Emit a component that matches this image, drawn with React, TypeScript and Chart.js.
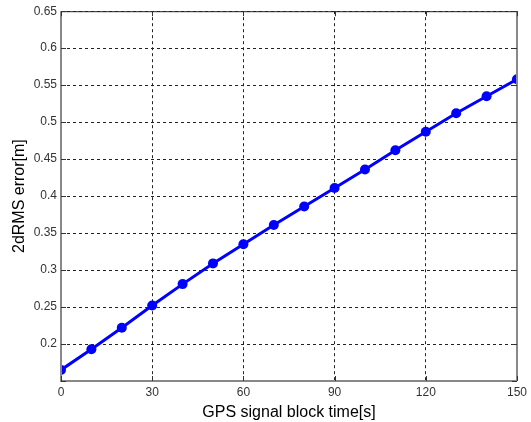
import React, { useEffect, useRef } from "react";
import { Chart, registerables } from "chart.js";

Chart.register(...registerables);

const blockTimes = [0, 10, 20, 30, 40, 50, 60, 70, 80, 90, 100, 110, 120, 130, 140, 150];
const rmsErrors = [0.165, 0.193, 0.222, 0.252, 0.281, 0.309, 0.335, 0.361, 0.386, 0.411, 0.436, 0.462, 0.487, 0.512, 0.535, 0.558];
const xTicks = [0, 30, 60, 90, 120, 150];
const yTicks = [0.15, 0.2, 0.25, 0.3, 0.35, 0.4, 0.45, 0.5, 0.55, 0.6, 0.65];
const yTickLabels = ["", "0.2", "0.25", "0.3", "0.35", "0.4", "0.45", "0.5", "0.55", "0.6", "0.65"];

const framePlugin = {
  id: "frame",
  afterDraw(chart: any) {
    const { ctx, chartArea: a } = chart;
    ctx.save();
    ctx.lineWidth = 1;
    ctx.strokeStyle = "#222";
    ctx.beginPath();
    ctx.moveTo(a.left, a.top + 0.5);
    ctx.lineTo(a.right, a.top + 0.5);
    ctx.stroke();
    ctx.strokeStyle = "#888";
    ctx.lineWidth = 2;
    ctx.beginPath();
    ctx.moveTo(a.right, a.top);
    ctx.lineTo(a.right, a.bottom);
    ctx.stroke();
    ctx.beginPath();
    ctx.moveTo(a.left, a.top);
    ctx.lineTo(a.left, a.bottom);
    ctx.lineTo(a.right, a.bottom);
    ctx.stroke();
    ctx.strokeStyle = "#333";
    ctx.lineWidth = 1;
    const xs = chart.scales.x, ys = chart.scales.y;
    xTicks.forEach((t) => {
      const px = Math.round(xs.getPixelForValue(t)) + 0.5;
      ctx.beginPath();
      ctx.moveTo(px, a.bottom); ctx.lineTo(px, a.bottom - 5);
      ctx.moveTo(px, a.top); ctx.lineTo(px, a.top + 5);
      ctx.stroke();
    });
    yTicks.forEach((t) => {
      const py = Math.round(ys.getPixelForValue(t)) + 0.5;
      ctx.beginPath();
      ctx.moveTo(a.left, py); ctx.lineTo(a.left + 5, py);
      ctx.moveTo(a.right, py); ctx.lineTo(a.right - 5, py);
      ctx.stroke();
    });
    ctx.restore();
  },
};

export default function App() {
  const ref = useRef<HTMLCanvasElement>(null);
  useEffect(() => {
    const chart = new Chart(ref.current as HTMLCanvasElement, {
      type: "line",
      data: {
        datasets: [
          {
            data: blockTimes.map((x, i) => ({ x, y: rmsErrors[i] })),
            borderColor: "#0000ff",
            backgroundColor: "#0000ff",
            borderWidth: 3,
            pointRadius: 5,
            pointHoverRadius: 5,
            pointBorderWidth: 0,
          },
        ],
      },
      plugins: [framePlugin],
      options: {
        animation: false,
        responsive: false,
        layout: { padding: { top: 9, right: 13, left: 0, bottom: 0 } },
        plugins: { legend: { display: false }, tooltip: { enabled: false } },
        scales: {
          x: {
            type: "linear",
            min: 0,
            max: 150,
            afterBuildTicks: (s: any) => { s.ticks = xTicks.map((v) => ({ value: v })); },
            afterFit: (s: any) => { s.height = 41; },
            grid: { color: "#222", lineWidth: 1, drawTicks: false },
            border: { display: false, dash: [3, 3] },
            ticks: { color: "#333", font: { family: "'Liberation Sans', Arial", size: 12 }, padding: 4, maxRotation: 0 },
            title: { display: true, text: "GPS signal block time[s]", color: "#000", font: { family: "'Liberation Sans', Arial", size: 16 }, padding: { top: 0, bottom: 0 } },
          },
          y: {
            type: "linear",
            min: 0.15,
            max: 0.65,
            afterBuildTicks: (s: any) => { s.ticks = yTicks.map((v) => ({ value: v })); },
            afterFit: (s: any) => { s.width = 61; },
            grid: { color: "#222", lineWidth: 1, drawTicks: false },
            border: { display: false, dash: [3, 3] },
            ticks: {
              color: "#333",
              font: { family: "'Liberation Sans', Arial", size: 12 },
              padding: 4,
              callback: (v: any, i: number) => yTickLabels[i],
            },
            title: { display: true, text: "2dRMS error[m]", color: "#000", font: { family: "'Liberation Sans', Arial", size: 16 }, padding: { top: 10, bottom: 0 } },
          },
        },
      },
    } as any);
    return () => chart.destroy();
  }, []);
  return (
    <div style={{ position: "absolute", left: 0, top: 0, width: 531, height: 422, background: "#fff" }}>
      <canvas ref={ref} width={531} height={422} style={{ display: "block" }} />
    </div>
  );
}
